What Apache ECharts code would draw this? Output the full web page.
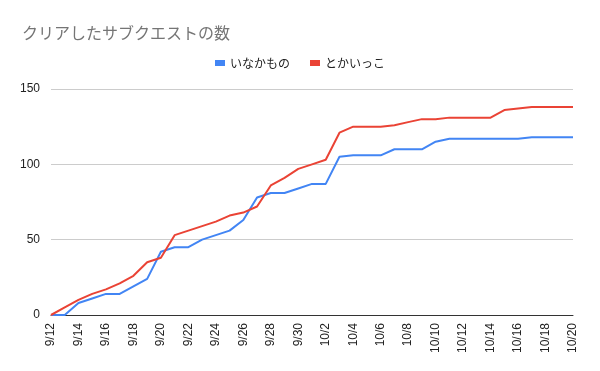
<!DOCTYPE html>
<html><head><meta charset="utf-8">
<script src="https://cdn.jsdelivr.net/npm/echarts@6/dist/echarts.min.js"></script>
<style>html,body{margin:0;padding:0;background:#fff}#c{width:600px;height:371px}</style>
</head><body><div id="c"></div>
<script>
const titleText = 'クリアしたサブクエストの数';
const seriesNames = ['いなかもの', 'とかいっこ'];
const dates = ['9/12','9/13','9/14','9/15','9/16','9/17','9/18','9/19','9/20','9/21','9/22','9/23','9/24','9/25','9/26','9/27','9/28','9/29','9/30','10/1','10/2','10/3','10/4','10/5','10/6','10/7','10/8','10/9','10/10','10/11','10/12','10/13','10/14','10/15','10/16','10/17','10/18','10/19','10/20'];
const inakamono = [0,0,8,11,14,14,19,24,42,45,45,50,53,56,63,78,81,81,84,87,87,105,106,106,106,110,110,110,115,117,117,117,117,117,117,118,118,118,118];
const tokaikko = [0,5,10,14,17,21,26,35,38,53,56,59,62,66,68,72,86,91,97,100,103,121,125,125,125,126,128,130,130,131,131,131,131,136,137,138,138,138,138];
const yTicks = [0, 50, 100, 150];

const chart = echarts.init(document.getElementById('c'));
chart.setOption({
  animation: false,
  title: { text: titleText, left: 17, top: 18, textStyle: { color: '#757575', fontSize: 16, fontWeight: 'normal', fontFamily: 'Noto Sans CJK JP', lineHeight: 20 } },
  legend: { top: 52, left: 'center', itemWidth: 10, itemHeight: 6, itemGap: 20, icon: 'rect',
    textStyle: { color: '#222', fontSize: 12, fontFamily: 'Noto Sans CJK JP' }, data: seriesNames },
  grid: { left: 51, right: 27, top: 89, bottom: 56 },
  xAxis: { type: 'category', data: dates, boundaryGap: false,
    axisLine: { lineStyle: { color: '#333', width: 1 } }, axisTick: { show: false },
    axisLabel: { rotate: 90, interval: 1, color: '#222', fontSize: 12, fontFamily: 'Arial, Liberation Sans', margin: 8 } },
  yAxis: { type: 'value', min: 0, max: 150, interval: 50,
    axisLine: { show: false }, axisTick: { show: false },
    axisLabel: { color: '#222', fontSize: 12, fontFamily: 'Arial, Liberation Sans', margin: 11,
      formatter: v => yTicks.includes(v) ? String(v) : '' },
    splitLine: { lineStyle: { color: '#ccc' } } },
  series: [
    { name: seriesNames[0], type: 'line', data: inakamono, showSymbol: false, symbol: 'none', lineStyle: { width: 2, color: '#4285F4' }, itemStyle: { color: '#4285F4' } },
    { name: seriesNames[1], type: 'line', data: tokaikko, showSymbol: false, symbol: 'none', lineStyle: { width: 2, color: '#EA4335' }, itemStyle: { color: '#EA4335' } }
  ]
});
</script></body></html>
